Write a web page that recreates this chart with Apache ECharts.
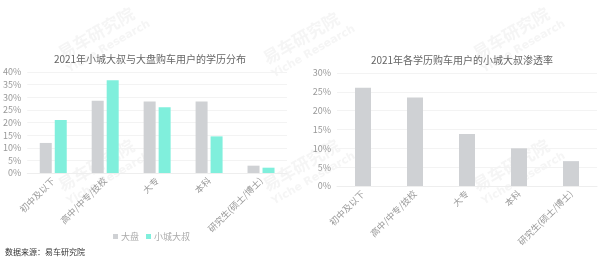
<!DOCTYPE html>
<html><head><meta charset="utf-8">
<script src="https://cdn.jsdelivr.net/npm/echarts@6/dist/echarts.min.js"></script>
<style>html,body{margin:0;padding:0;background:#fff}#c{width:600px;height:261px}</style>
</head><body><div id="c"></div>
<script>
var categories = ['初中及以下','高中/中专/技校','大专','本科','研究生(硕士/博士)'];
var seriesNames = ['大盘','小城大叔'];
var dapan = [11.9, 28.6, 28.3, 28.3, 2.9];
var xiaocheng = [21.0, 36.7, 26.0, 14.5, 2.1];
var penetration = [26.1, 23.5, 13.8, 10.0, 6.6];
var titleLeft = '2021年小城大叔与大盘购车用户的学历分布';
var titleRight = '2021年各学历购车用户的小城大叔渗透率';
var sourceText = '数据来源：易车研究院';

var FONT = '"Noto Sans CJK SC", sans-serif';
var chart = echarts.init(document.getElementById('c'), null, {renderer:'canvas'});

var marks = [[100,40],[305,45],[515,40],[100,172],[305,172],[515,172]];
var graphics = [];
marks.forEach(function(m){
  graphics.push({type:'group', x:m[0], y:m[1], rotation: Math.PI/6, silent:true, z:100, children:[
    {type:'text', style:{text:'易车研究院', x:0, y:-8, fill:'rgba(210,210,210,0.22)', font:'bold 17px '+FONT, textAlign:'center', textVerticalAlign:'middle'}},
    {type:'text', style:{text:'Yiche Research', x:4, y:10, fill:'rgba(210,210,210,0.22)', font:'bold 11px "DejaVu Sans", sans-serif', textAlign:'center', textVerticalAlign:'middle'}}
  ]});
});
graphics.push({type:'text', left:5, top:248, style:{text:sourceText, fill:'#333', font:'8px '+FONT}});

function xAxis(i){
  return {type:'category', gridIndex:i, data:categories,
    axisLine:{lineStyle:{color:'#eeeeee'}}, axisTick:{show:false},
    axisLabel:{rotate:45, fontSize:9, color:'#999', fontFamily:FONT, interval:0, margin:6}};
}
function yAxis(i, max){
  return {type:'value', gridIndex:i, min:0, max:max, interval:5,
    axisLine:{show:false}, axisTick:{show:false},
    splitLine:{lineStyle:{color:'#f3f3f3'}},
    axisLabel:{formatter:'{value}%', fontSize:9, color:'#999', fontFamily:FONT, margin:6}};
}

chart.setOption({
  animation:false,
  textStyle:{fontFamily:FONT},
  title:[
    {text:titleLeft, left:145, top:49, textAlign:'center', textStyle:{fontSize:10, fontWeight:'normal', color:'#666', fontFamily:FONT}},
    {text:titleRight, left:457, top:50, textAlign:'center', textStyle:{fontSize:10, fontWeight:'normal', color:'#666', fontFamily:FONT}}
  ],
  legend:{data:seriesNames, left:113, top:232, icon:'rect', itemWidth:5, itemHeight:5, itemGap:7, padding:0,
    textStyle:{fontSize:9, color:'#aaa', fontFamily:FONT, padding:[0,0,0,-2]}},
  grid:[
    {left:27, top:72, width:260, height:101},
    {left:337, top:73, width:260, height:113}
  ],
  xAxis:[xAxis(0), xAxis(1)],
  yAxis:[yAxis(0,40), yAxis(1,30)],
  series:[
    {name:seriesNames[0], type:'bar', xAxisIndex:0, yAxisIndex:0, data:dapan, barWidth:12, barGap:'25%', itemStyle:{color:'#cfd1d4'}},
    {name:seriesNames[1], type:'bar', xAxisIndex:0, yAxisIndex:0, data:xiaocheng, barWidth:12, barGap:'25%', itemStyle:{color:'#80efdc'}},
    {name:'渗透率', type:'bar', xAxisIndex:1, yAxisIndex:1, data:penetration, barWidth:16, itemStyle:{color:'#cfd1d4'}}
  ],
  graphic:graphics
});
</script></body></html>
